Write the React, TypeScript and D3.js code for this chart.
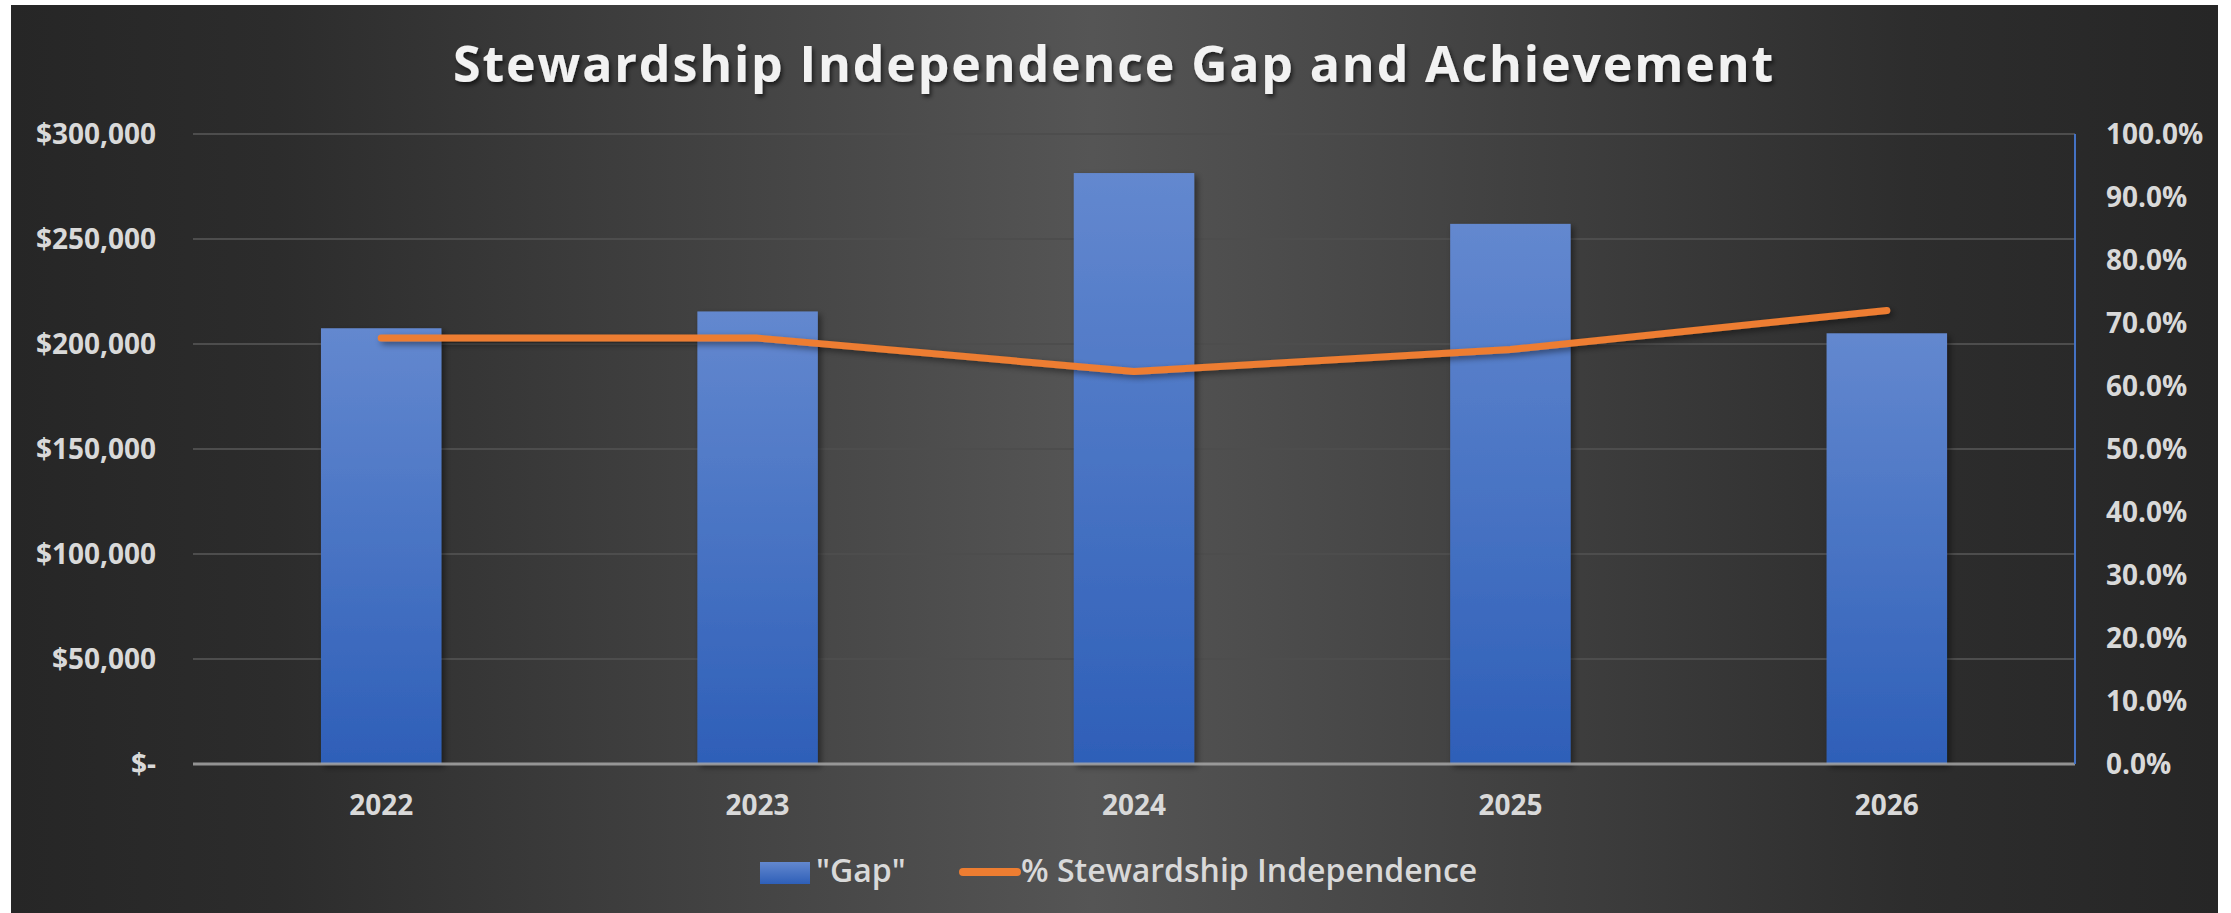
import { useEffect } from 'react'
import * as d3 from 'd3'

// chart data
const years = ['2022', '2023', '2024', '2025', '2026']
const gapValues = [207500, 215500, 281400, 257200, 205100]
const independencePct = [0.676, 0.676, 0.623, 0.658, 0.72]
const leftTicks = [0, 50000, 100000, 150000, 200000, 250000, 300000]
const rightTicks = [0, 0.1, 0.2, 0.3, 0.4, 0.5, 0.6, 0.7, 0.8, 0.9, 1.0]

const W = 2231
const H = 913
const margin = { top: 134, right: 156, bottom: 149, left: 193 }
const FONT = '"Open Sans", "Liberation Sans", sans-serif'
const LABEL = '#d9d9d9'
const ORANGE = '#ed7d31'

const fmtMoney = (v: number) => (v === 0 ? '$-' : '$' + d3.format(',')(v))
const fmtPct = d3.format('.1%')

export default function App() {
  useEffect(() => {
    document.body.style.margin = '0'
  }, [])

  const x0 = margin.left
  const x1 = W - margin.right
  const yBottom = H - margin.bottom
  const yTop = margin.top

  const x = d3.scaleBand<string>().domain(years).range([x0, x1]).paddingInner(0.68).paddingOuter(0.34)
  const yL = d3.scaleLinear().domain([0, 300000]).range([yBottom, yTop])
  const yR = d3.scaleLinear().domain([0, 1]).range([yBottom, yTop])

  const center = (y: string) => (x(y) ?? 0) + x.bandwidth() / 2
  const line = d3
    .line<number>()
    .x((_, i) => center(years[i]))
    .y(d => yR(d))

  return (
    <svg width={W} height={H} style={{ display: 'block', background: '#ffffff' }}>
      <defs>
        <linearGradient id="bg" x1="0" y1="0" x2="1" y2="0">
          <stop offset="0" stopColor="#262626" />
          <stop offset="0.12" stopColor="#2c2c2c" />
          <stop offset="0.49" stopColor="#555555" />
          <stop offset="0.86" stopColor="#2d2d2d" />
          <stop offset="1" stopColor="#262626" />
        </linearGradient>
        <linearGradient id="barFill" x1="0" y1="0" x2="0" y2="1">
          <stop offset="0" stopColor="#6388cf" />
          <stop offset="1" stopColor="#2e5fb8" />
        </linearGradient>
        <filter id="shadow" x="-20%" y="-20%" width="140%" height="140%">
          <feDropShadow dx="3" dy="3" stdDeviation="3" floodColor="#000" floodOpacity="0.45" />
        </filter>
        <filter id="textShadow" x="-5%" y="-30%" width="110%" height="160%">
          <feDropShadow dx="2" dy="3" stdDeviation="2" floodColor="#000" floodOpacity="0.6" />
        </filter>
      </defs>

      <rect x={11} y={5} width={2207} height={H - 5} fill="url(#bg)" />

      <text
        x={1114}
        y={82}
        textAnchor="middle"
        fill="#f2f2f2"
        fontFamily={FONT}
        fontWeight={700}
        fontSize={50}
        letterSpacing={1.9}
        filter="url(#textShadow)"
      >
        Stewardship Independence Gap and Achievement
      </text>

      {/* grid lines */}
      {leftTicks.slice(1).map(t => (
        <line key={t} x1={x0} x2={x1} y1={yL(t)} y2={yL(t)} stroke="#4d4d4d" strokeWidth={2} />
      ))}

      {/* bars */}
      {years.map((yr, i) => (
        <rect
          key={yr}
          x={x(yr)}
          y={yL(gapValues[i])}
          width={x.bandwidth()}
          height={yBottom - yL(gapValues[i])}
          fill="url(#barFill)"
          filter="url(#shadow)"
        />
      ))}

      {/* baseline */}
      <line x1={x0} x2={x1} y1={yBottom} y2={yBottom} stroke="#a6a6a6" strokeOpacity={0.85} strokeWidth={3} />
      {/* secondary axis */}
      <line x1={x1} x2={x1} y1={yTop} y2={yBottom} stroke="#4472c4" strokeWidth={2} />

      {/* line series */}
      <path
        d={line(independencePct) ?? ''}
        fill="none"
        stroke={ORANGE}
        strokeWidth={7}
        strokeLinecap="round"
        strokeLinejoin="round"
        filter="url(#shadow)"
      />

      {/* left axis labels */}
      {leftTicks.map(t => (
        <text
          key={t}
          x={156}
          y={yL(t)}
          dy="0.35em"
          textAnchor="end"
          fill={LABEL}
          fontFamily={FONT}
          fontWeight={700}
          fontSize={28}
        >
          {fmtMoney(t)}
        </text>
      ))}

      {/* right axis labels */}
      {rightTicks.map(t => (
        <text
          key={t}
          x={2106}
          y={yR(t)}
          dy="0.35em"
          fill={LABEL}
          fontFamily={FONT}
          fontWeight={700}
          fontSize={28}
        >
          {fmtPct(t)}
        </text>
      ))}

      {/* x axis labels */}
      {years.map(yr => (
        <text
          key={yr}
          x={center(yr)}
          y={815}
          textAnchor="middle"
          fill={LABEL}
          fontFamily={FONT}
          fontWeight={700}
          fontSize={28}
        >
          {yr}
        </text>
      ))}

      {/* legend */}
      <rect x={760} y={862} width={50} height={22} fill="url(#barFill)" />
      <text x={816} y={882} fill={LABEL} fontFamily={FONT} fontWeight={600} fontSize={32}>
        "Gap"
      </text>
      <line x1={963} x2={1017} y1={872} y2={872} stroke={ORANGE} strokeWidth={8} strokeLinecap="round" />
      <text x={1021} y={882} fill={LABEL} fontFamily={FONT} fontWeight={600} fontSize={32}>
        % Stewardship Independence
      </text>
    </svg>
  )
}
